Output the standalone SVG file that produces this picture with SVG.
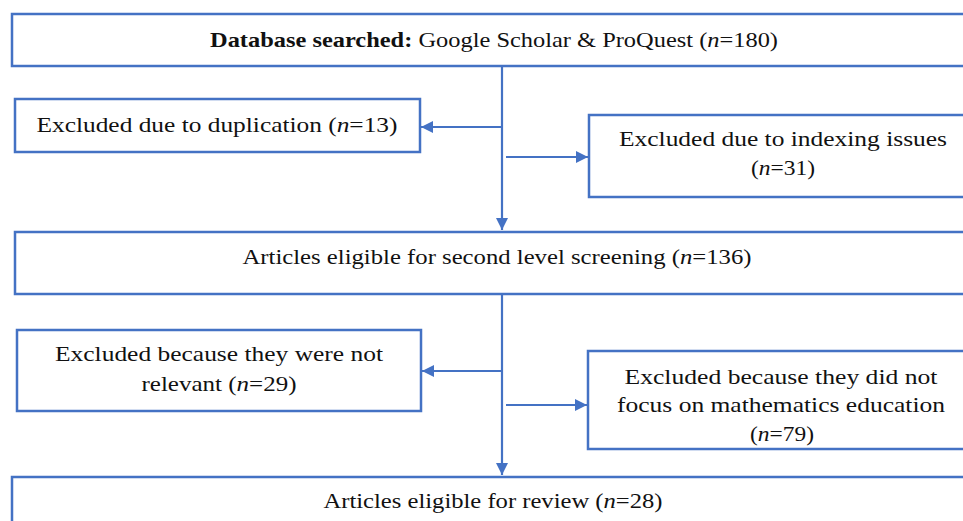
<svg xmlns="http://www.w3.org/2000/svg" width="963" height="521" viewBox="0 0 963 521">
<defs>
<style>
.box{fill:#fff;stroke:#4472C4;stroke-width:2.5}
.ln{fill:none;stroke:#4472C4;stroke-width:2.2}
text{font-family:"Liberation Serif","Times New Roman",serif;font-size:22px;fill:#111;text-anchor:middle}
</style>
<marker id="ah" viewBox="0 0 12 12" refX="12" refY="6" markerWidth="12" markerHeight="12" markerUnits="userSpaceOnUse" orient="auto">
<path d="M0,0 L12,6 L0,12 Z" fill="#4472C4"/>
</marker>
</defs>
<rect width="963" height="521" fill="#fff"/>
<g id="connectors">
<line class="ln" x1="502" y1="66" x2="502" y2="230" marker-end="url(#ah)"/>
<line class="ln" x1="502" y1="127" x2="421" y2="127" marker-end="url(#ah)"/>
<line class="ln" x1="506" y1="157" x2="588" y2="157" marker-end="url(#ah)"/>
<line class="ln" x1="502" y1="294" x2="502" y2="475" marker-end="url(#ah)"/>
<line class="ln" x1="502" y1="371" x2="422" y2="371" marker-end="url(#ah)"/>
<line class="ln" x1="506" y1="405" x2="587" y2="405" marker-end="url(#ah)"/>
</g>
<g id="n1">
<rect class="box" x="12" y="14" width="970" height="52"/>
<text x="494" y="47" textLength="568" lengthAdjust="spacingAndGlyphs"><tspan font-weight="bold">Database searched:</tspan> Google Scholar &amp; ProQuest (<tspan font-style="italic">n</tspan>=180)</text>
</g>
<g id="n2">
<rect class="box" x="15" y="99" width="405" height="53"/>
<text x="217" y="132" textLength="361" lengthAdjust="spacingAndGlyphs">Excluded due to duplication (<tspan font-style="italic">n</tspan>=13)</text>
</g>
<g id="n3">
<rect class="box" x="589" y="115" width="390" height="82"/>
<text x="783" y="146" textLength="328" lengthAdjust="spacingAndGlyphs">Excluded due to indexing issues</text>
<text x="783" y="175" textLength="64" lengthAdjust="spacingAndGlyphs">(<tspan font-style="italic">n</tspan>=31)</text>
</g>
<g id="n4">
<rect class="box" x="15" y="232" width="970" height="62"/>
<text x="497" y="264" textLength="509" lengthAdjust="spacingAndGlyphs">Articles eligible for second level screening (<tspan font-style="italic">n</tspan>=136)</text>
</g>
<g id="n5">
<rect class="box" x="17" y="330" width="404" height="81"/>
<text x="219" y="361" textLength="328" lengthAdjust="spacingAndGlyphs">Excluded because they were not</text>
<text x="219" y="391" textLength="155" lengthAdjust="spacingAndGlyphs">relevant (<tspan font-style="italic">n</tspan>=29)</text>
</g>
<g id="n6">
<rect class="box" x="588" y="351" width="390" height="98"/>
<text x="781" y="384" textLength="313" lengthAdjust="spacingAndGlyphs">Excluded because they did not</text>
<text x="781" y="412" textLength="328" lengthAdjust="spacingAndGlyphs">focus on mathematics education</text>
<text x="782" y="441" textLength="64" lengthAdjust="spacingAndGlyphs">(<tspan font-style="italic">n</tspan>=79)</text>
</g>
<g id="n7">
<rect class="box" x="12" y="477" width="970" height="60"/>
<text x="493" y="508" textLength="339" lengthAdjust="spacingAndGlyphs">Articles eligible for review (<tspan font-style="italic">n</tspan>=28)</text>
</g>
</svg>
